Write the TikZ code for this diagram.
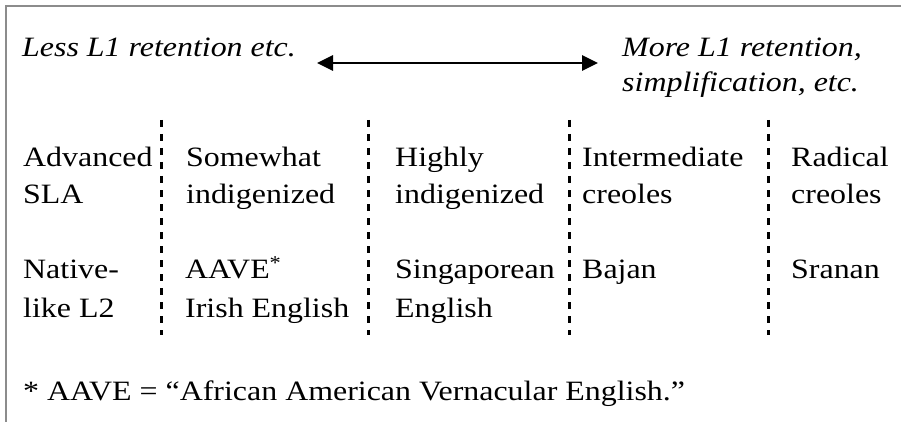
\documentclass[tikz,border=0pt]{standalone}
\usepackage{fontspec}
\setmainfont[FakeStretch=1.14]{Liberation Serif}
\usetikzlibrary{arrows.meta}
\tikzset{
  cell/.style={anchor=base west, inner sep=0pt, align=left, font=\fontsize{28}{36.5}\selectfont},
  cellwide/.style={cell, font=\fontsize{28}{38.5}\selectfont},
  slant/.style={cell, font=\fontsize{28}{35}\selectfont\itshape},
  sep/.style={line width=3pt, dash pattern=on 6.7pt off 7.3pt},
  frame/.style={draw=gray!90, line width=1.4pt},
  tip/.style={line width=2.8pt, {Triangle[length=16pt,width=15pt]}-{Triangle[length=16pt,width=15pt]}},
}
\begin{document}
\begin{tikzpicture}[x=1pt,y=-1pt]
\useasboundingbox (0,0) rectangle (901,422);
\draw[frame] (6,422) -- (6,6) -- (901,6);
\node[slant] (less) at (22,57) {Less L1 retention etc.};
\node[slant] (more) at (622,92) {More L1 retention,\\simplification, etc.};
\coordinate (arrL) at (317,63);
\coordinate (arrR) at (598,63);
\draw[tip] (arrL) -- (arrR);
\foreach \x in {161,368,569,768}
  \draw[sep] (\x,120) -- (\x,335);
\node[cell] (sla) at (23,203) {Advanced\\SLA};
\node[cell] (some) at (186,203) {Somewhat\\indigenized};
\node[cell] (high) at (395,203) {Highly\\indigenized};
\node[cell] (inter) at (582,203) {Intermediate\\creoles};
\node[cell] (radical) at (791,203) {Radical\\creoles};
\node[cellwide] (native) at (23,317) {Native-\\like L2};
\node[cellwide] (aave) at (185,317) {AAVE\textsuperscript{*}\\Irish English};
\node[cellwide] (singa) at (395,317) {Singaporean\\English};
\node[cell] (bajan) at (582,278) {Bajan};
\node[cell] (sranan) at (791,278) {Sranan};
\node[cell] (note) at (23,400) {* AAVE = “African American Vernacular English.”};
\end{tikzpicture}
\end{document}
